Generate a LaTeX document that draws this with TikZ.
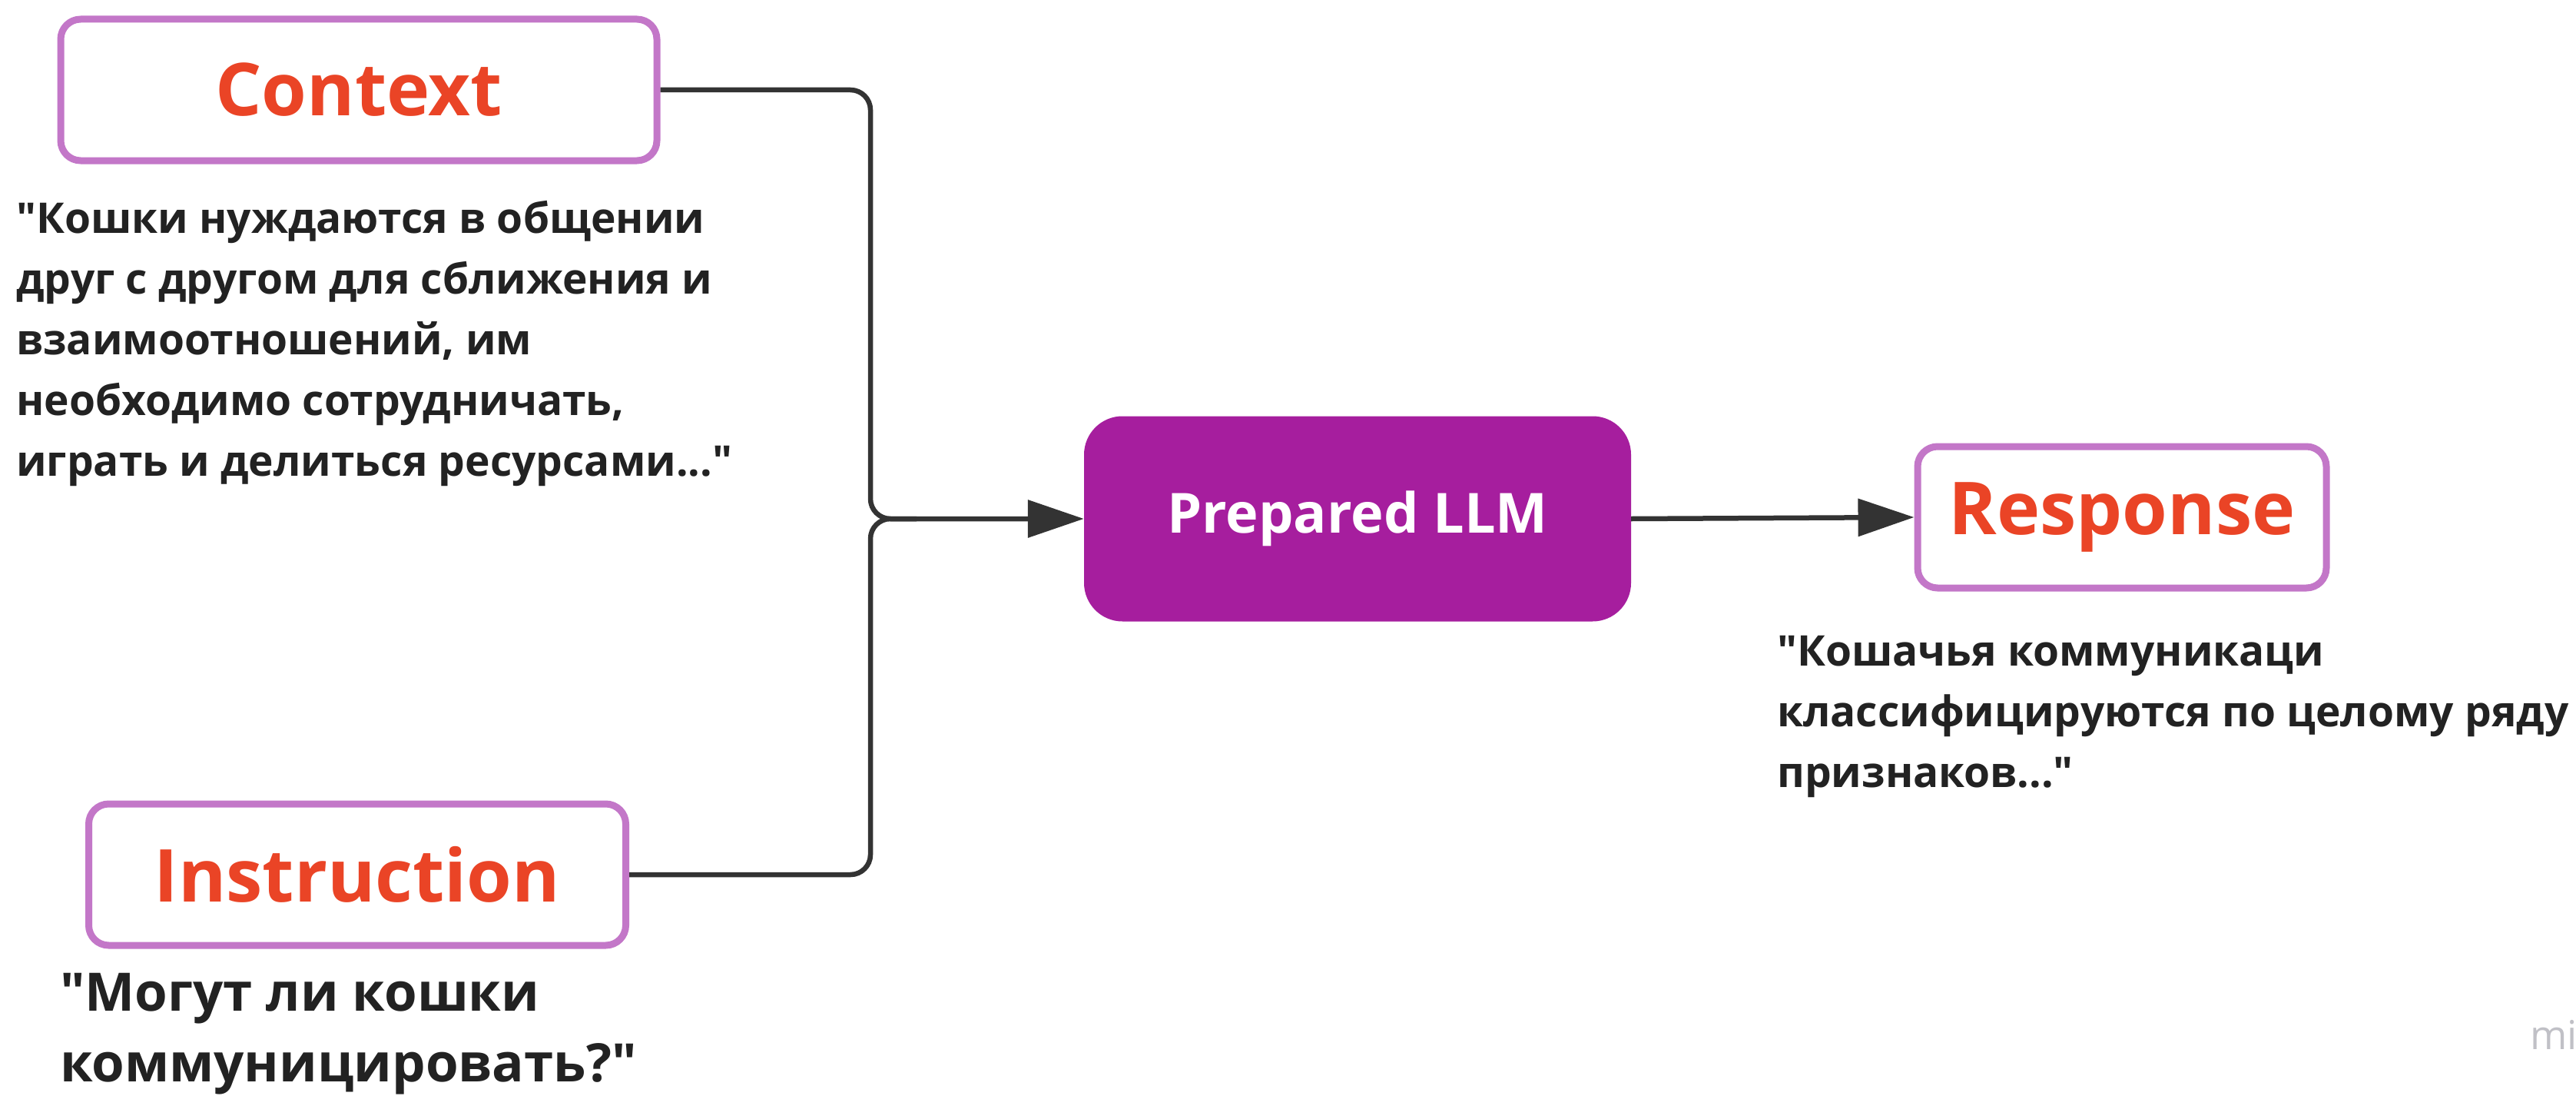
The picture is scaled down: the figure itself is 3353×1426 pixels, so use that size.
\documentclass[tikz,border=0pt]{standalone}
\usepackage{fontspec}
\setmainfont{Open Sans}[Ligatures=TeXOff]
\usetikzlibrary{arrows.meta}
\definecolor{hdr}{RGB}{234,68,38}
\definecolor{bord}{RGB}{195,119,200}
\definecolor{llmfill}{RGB}{166,30,158}
\definecolor{ink}{RGB}{34,34,34}
\definecolor{wire}{RGB}{51,51,51}
\definecolor{wm}{RGB}{192,192,198}
\tikzset{
  hbox/.style={draw=bord, line width=9pt, rounded corners=26pt, fill=white,
    minimum height=184pt, text=hdr, inner sep=0pt,
    font=\fontsize{95}{110}\selectfont\bfseries},
  llmbox/.style={fill=llmfill, rounded corners=50pt, minimum width=712pt,
    minimum height=267pt, text=white, inner sep=0pt,
    font=\fontsize{72}{80}\selectfont\bfseries},
  desc/.style={anchor=north west, inner sep=0pt, align=left, text=ink,
    font=\fontsize{55}{79}\selectfont\bfseries},
  descbig/.style={anchor=north west, inner sep=0pt, align=left, text=ink,
    font=\fontsize{69}{92}\selectfont\bfseries},
  wire/.style={draw=wire, line width=6.5pt, rounded corners=26pt},
  tip/.style={-{Triangle[length=73pt,width=48pt]}}
}
\begin{document}
\begin{tikzpicture}[x=1pt,y=-1pt]
\useasboundingbox[fill=white] (0,0) rectangle (3353,1426);
\node[hbox, minimum width=776pt] (ctx) at (467,117) {Context};
\node[hbox, minimum width=699pt] (ins) at (465,1138) {Instruction};
\node[llmbox] (llm) at (1767,675) {Prepared LLM};
\node[hbox, minimum width=532pt] (resp) at (2762,673) {Response};
\coordinate (j) at (1133,675);
\node[desc] (ctxt) at (21,261) {"Кошки нуждаются в общении\\друг с другом для сближения и\\взаимоотношений, им\\необходимо сотрудничать,\\играть и делиться ресурсами..."};
\node[descbig] (inst) at (78,1266) {"Могут ли кошки\\коммуницировать?"};
\node[desc] (respt) at (2313,827) {"Кошачья коммуникаци\\классифицируются по целому ряду\\признаков..."};
\node[anchor=base west, inner sep=0pt, text=wm, font=\fontsize{52}{60}\selectfont] (mark) at (3293,1365) {mi};
\draw[wire, tip] (ctx.east) -| (j) -- (llm.west);
\draw[wire] (ins.east) -| (j) -- ([xshift=60pt]j);
\draw[wire, tip] (llm.east) -- (resp.west);
\end{tikzpicture}
\end{document}
